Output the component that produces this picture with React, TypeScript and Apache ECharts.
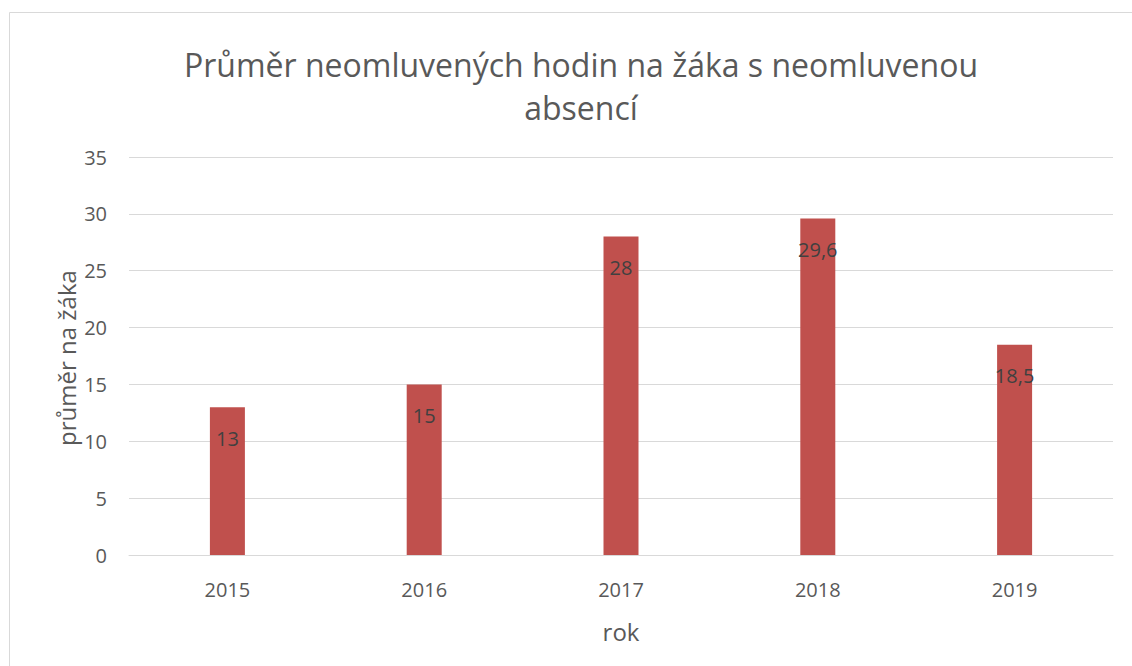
import React, { useEffect, useRef } from "react";
import * as echarts from "echarts";

const categories = ["2015", "2016", "2017", "2018", "2019"];
const values = [13, 15, 28, 29.6, 18.5];
const yTicks = { min: 0, max: 35, interval: 5 };
const titleLines = ["Průměr neomluvených hodin na žáka s neomluvenou", "absencí"];
const xName = "rok";
const yName = "průměr na žáka";

const FONT = "'Open Sans', sans-serif";

export default function App() {
  const ref = useRef<HTMLDivElement>(null);
  useEffect(() => {
    if (!ref.current) return;
    const chart = echarts.init(ref.current, null, { renderer: "svg" });
    chart.setOption({
      animation: false,
      backgroundColor: "#ffffff",
      textStyle: { fontFamily: FONT },
      grid: { left: 129, right: 19, top: 157, bottom: 111 },
      xAxis: {
        type: "category",
        data: categories,
        axisLine: { lineStyle: { color: "#d9d9d9", width: 1 } },
        axisTick: { show: false },
        axisLabel: { color: "#595959", fontSize: 20, margin: 24, fontFamily: FONT },
      },
      yAxis: {
        type: "value",
        min: yTicks.min,
        max: yTicks.max,
        interval: yTicks.interval,
        axisLine: { show: false },
        axisTick: { show: false },
        axisLabel: { color: "#595959", fontSize: 20, margin: 22, fontFamily: FONT },
        splitLine: { lineStyle: { color: "#d9d9d9", width: 1 } },
      },
      series: [
        {
          type: "bar",
          data: values,
          barWidth: 35,
          itemStyle: { color: "#c0504d" },
          label: {
            show: true,
            position: "insideTop",
            distance: 21,
            color: "#404040",
            fontSize: 20,
            fontFamily: FONT,
            formatter: (p: any) => String(p.value).replace(".", ","),
          },
        },
      ],
      graphic: [
        {
          type: "rect",
          shape: { x: 9.5, y: 12.5, width: 1140, height: 700 },
          style: { fill: "none", stroke: "#d9d9d9", lineWidth: 1 },
          silent: true,
        },
        {
          type: "text",
          x: 581,
          y: 64,
          style: {
            text: titleLines[0],
            fill: "#595959",
            fontSize: 32,
            fontFamily: FONT,
            textAlign: "center",
            textVerticalAlign: "middle",
          },
        },
        {
          type: "text",
          x: 581,
          y: 107,
          style: {
            text: titleLines[1],
            fill: "#595959",
            fontSize: 32,
            fontFamily: FONT,
            textAlign: "center",
            textVerticalAlign: "middle",
          },
        },
        {
          type: "text",
          x: 621,
          y: 631,
          style: {
            text: xName,
            fill: "#595959",
            fontSize: 24,
            fontFamily: FONT,
            textAlign: "center",
            textVerticalAlign: "middle",
          },
        },
        {
          type: "text",
          x: 66,
          y: 358,
          rotation: Math.PI / 2,
          style: {
            text: yName,
            fill: "#595959",
            fontSize: 24,
            fontFamily: FONT,
            textAlign: "center",
            textVerticalAlign: "middle",
          },
        },
      ],
    });
    return () => chart.dispose();
  }, []);
  return (
    <div
      ref={ref}
      style={{ position: "fixed", left: 0, top: 0, width: 1132, height: 666 }}
    />
  );
}
